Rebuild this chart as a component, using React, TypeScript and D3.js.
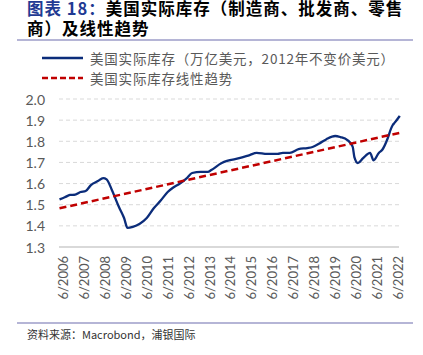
import React from "react";
import * as d3 from "d3";

const dates = [
  "2006-04","2006-07","2006-10","2007-01","2007-04","2007-07","2007-10","2008-02","2008-05","2008-07",
  "2008-10","2009-02","2009-05","2009-07","2009-10","2010-02","2010-06","2010-10","2011-02","2011-06",
  "2011-09","2012-01","2012-05","2012-08","2013-01","2013-05","2013-07","2014-01","2014-04","2014-11",
  "2015-05","2015-09","2016-03","2016-09","2016-12","2017-04","2017-09","2018-02","2018-05","2018-09",
  "2019-01","2019-06","2019-09","2020-01","2020-04","2020-05","2020-07","2020-10","2021-02","2021-04",
  "2021-07","2021-09","2021-12","2022-02","2022-03","2022-04","2022-07"
];
const inventory = [
  1.525,1.535,1.546,1.548,1.56,1.565,1.593,1.612,1.626,1.62,
  1.57,1.49,1.437,1.39,1.395,1.41,1.437,1.483,1.52,1.56,
  1.58,1.6,1.626,1.65,1.655,1.655,1.664,1.697,1.707,1.72,
  1.735,1.745,1.74,1.74,1.745,1.745,1.763,1.768,1.773,1.79,
  1.81,1.825,1.82,1.806,1.775,1.725,1.697,1.72,1.745,1.71,
  1.745,1.76,1.812,1.86,1.877,1.887,1.92
];
const trendDates = ["2006-04", "2022-07"];
const trendValues = [1.483, 1.84];
const yTicks = [1.3, 1.4, 1.5, 1.6, 1.7, 1.8, 1.9, 2.0];
const xTickYears = d3.range(2006, 2023);

const toYear = (s: string) => {
  const [y, m] = s.split("-").map(Number);
  return y + (m - 1) / 12;
};

export default function App() {
  const W = 423, H = 355;
  const x = d3.scaleLinear().domain([2006.4167, 2022.4167]).range([63, 398]);
  const y = d3.scaleLinear().domain([1.3, 2.0]).range([247, 99]);
  const line = d3
    .line<[number, number]>()
    .x((d) => x(d[0]))
    .y((d) => y(d[1]))
    .curve(d3.curveMonotoneX);
  const invPts: [number, number][] = dates.map((d, i) => [toYear(d), inventory[i]]);
  const trendPts: [number, number][] = trendDates.map((d, i) => [toYear(d), trendValues[i]]);
  const gx0 = 59, gx1 = 399;
  const cjk = "'Noto Sans CJK SC', sans-serif";
  const num = "Lato, 'Liberation Sans', sans-serif";
  return (
    <svg width={W} height={H} style={{ position: "absolute", left: 0, top: 0, background: "#fff" }}>
      <text x={27} y={15} fontFamily={cjk} fontSize={16.5} fontWeight="bold" letterSpacing={1.0}>
        <tspan fill="#1F3A93">图表 18：</tspan>
        <tspan fill="#000">美国实际库存（制造商、批发商、零售</tspan>
      </text>
      <text x={27} y={35} fontFamily={cjk} fontSize={16.5} fontWeight="bold" letterSpacing={1.0} fill="#000">
        商）及线性趋势
      </text>
      <line x1={17} x2={413} y1={40} y2={40} stroke="#9C9CC8" strokeWidth={1.5} />

      <line x1={42} x2={83} y1={58} y2={58} stroke="#0B2C7A" strokeWidth={2.5} />
      <text x={90} y={58} dominantBaseline="central" fontFamily={cjk} fontSize={13.5} fill="#595959" letterSpacing={0.8}>
        美国实际库存（万亿美元，2012年不变价美元）
      </text>
      <line x1={42} x2={83} y1={78} y2={78} stroke="#C00000" strokeWidth={2.5} strokeDasharray="6,3" />
      <text x={90} y={78} dominantBaseline="central" fontFamily={cjk} fontSize={13.5} fill="#595959" letterSpacing={0.8}>
        美国实际库存线性趋势
      </text>

      {yTicks.map((t) => (
        <g key={t}>
          {t > 1.3 ? (
            <line x1={gx0} x2={gx1} y1={y(t)} y2={y(t)} stroke="#D9D9D9" strokeWidth={1} strokeDasharray="4,3" />
          ) : (
            <line x1={gx0} x2={gx1} y1={y(t)} y2={y(t)} stroke="#D9D9D9" strokeWidth={2} />
          )}
          <text x={45} y={y(t)} textAnchor="end" dominantBaseline="central" fontFamily={num} fontSize={14} fill="#595959">
            {t.toFixed(1)}
          </text>
        </g>
      ))}

      {xTickYears.map((yr) => {
        const px = x(yr + 5 / 12);
        return (
          <text
            key={yr}
            transform={`translate(${px},${256}) rotate(-90)`}
            textAnchor="end"
            dominantBaseline="central"
            fontFamily={num}
            fontSize={13}
            fill="#595959"
          >
            {`6/${yr}`}
          </text>
        );
      })}

      <path d={line(invPts) || ""} fill="none" stroke="#0B2C7A" strokeWidth={2.3} strokeLinejoin="round" />
      <path d={line(trendPts) || ""} fill="none" stroke="#C00000" strokeWidth={2.5} strokeDasharray="7,4" />

      <line x1={17} x2={413} y1={323} y2={323} stroke="#9C9CC8" strokeWidth={1.5} />
      <text x={27} y={334} dominantBaseline="central" fontFamily={cjk} fontSize={11} fill="#333">
        资料来源：Macrobond，浦银国际
      </text>
    </svg>
  );
}
